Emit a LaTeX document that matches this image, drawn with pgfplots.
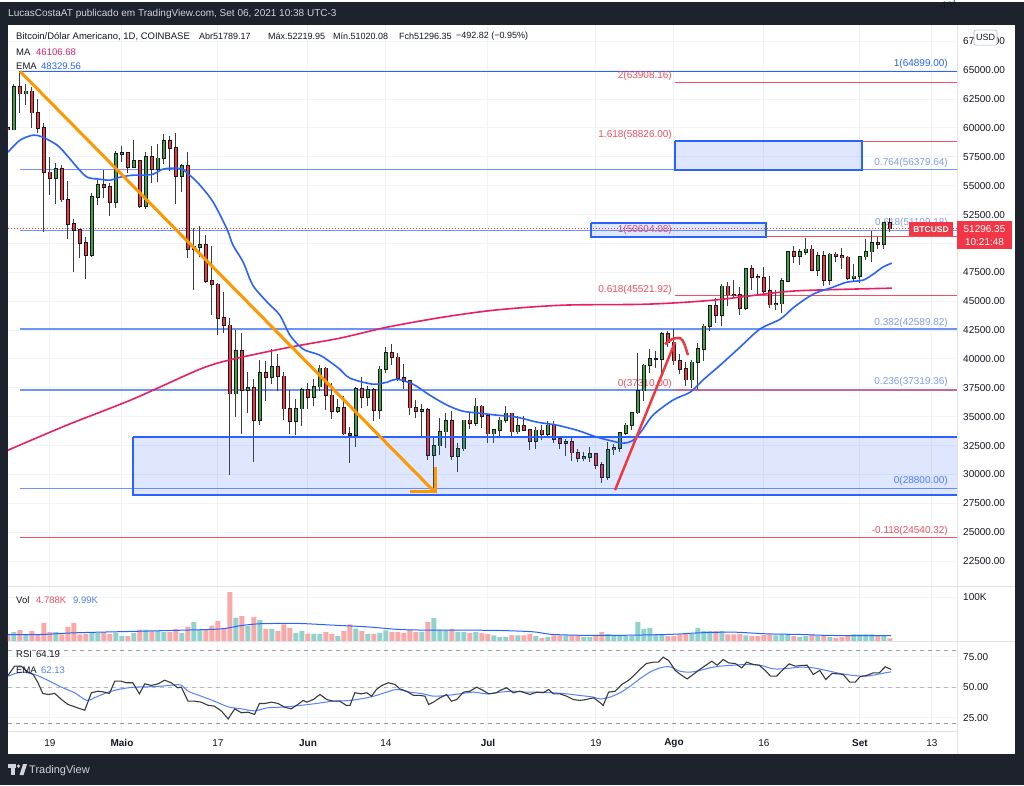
\documentclass[border=0pt]{standalone}
\usepackage{fontspec}
\setmainfont{Liberation Sans}
\usepackage{pgfplots}
\pgfplotsset{compat=1.18}
\usepackage{pgfplotstable}

\definecolor{bgdark}{HTML}{1E222D}
\definecolor{txt}{HTML}{131722}
\definecolor{hdr}{HTML}{D1D4DC}
\definecolor{gridc}{HTML}{F0F3FA}
\definecolor{sep}{HTML}{E0E3EB}
\definecolor{cgreen}{HTML}{43A047}
\definecolor{cred}{HTML}{F0393E}
\definecolor{wick}{HTML}{3C3C3C}
\definecolor{border}{HTML}{1A1A1A}
\definecolor{mapink}{HTML}{E91E63}
\definecolor{emablue}{HTML}{2962FF}
\definecolor{fibblue}{HTML}{6F94F5}
\definecolor{fiblab}{HTML}{7F9CF0}
\definecolor{fibred}{HTML}{F44E5B}
\definecolor{orangec}{HTML}{FF9800}
\definecolor{volg}{HTML}{92D2CC}
\definecolor{volr}{HTML}{F8A9A8}
\definecolor{rsiline}{HTML}{3A3A3A}
\definecolor{dashc}{HTML}{9598A1}
\definecolor{labred}{HTML}{F23645}

\pgfplotstableread{
d O H L C V
-7 59990 61200 59380 59840 15
-6 59840 63774 59800 63577 20.5
-5 63577 64899 61301 62959 25
-4 62959 63800 62020 63160 15.2
-3 63160 63520 60000 61334 22.7
-2 61334 62500 59580 60006 13.6
-1 60006 60400 51000 56150 41.7
0 56150 57500 54200 55640 20.5
1 55640 57000 53400 56440 20.5
2 56440 56780 53600 53780 15.2
3 53780 55450 50400 51690 32.6
4 51690 52100 47500 51150 41.7
5 51150 51200 48750 50050 15.2
6 50050 50550 46930 49000 16.7
7 49000 54350 48800 54030 20.5
8 54030 55450 53300 55050 19
9 55050 56400 53900 54880 20.5
10 54880 55200 52400 53580 16.7
11 53580 58000 53100 57750 19
12 57750 58450 57050 57830 11.4
13 57830 57950 56100 56580 11.4
14 56580 58950 56500 57170 19
15 57170 57200 53050 53240 26.5
16 53240 57900 52950 57500 26.5
17 57500 58400 55250 56420 22.7
18 56420 58650 55300 57380 22.7
19 57380 59500 56900 58900 20.5
20 58900 59300 56300 58250 20.5
21 58250 59550 53400 55840 28
22 55840 56900 54450 56740 19
23 56740 57950 48700 49500 32.6
24 49500 51350 46000 49700 43.2
25 49700 51500 48850 49900 25
26 49900 50700 46600 46750 25
27 46750 49800 43800 46450 35.6
28 46450 46600 42100 43550 45.5
29 43550 45800 42250 42900 30.3
30 42900 43550 30000 37000 111.4
31 37000 42550 35000 40700 53
32 40700 42250 33500 37300 56.9
33 37300 38850 35300 37500 34.1
34 37500 38300 31100 34700 54.6
35 34700 39900 34300 38800 47.8
36 38800 39800 36400 38400 28
37 38400 40850 37800 39300 28
38 39300 40400 37200 38500 22.7
39 38500 38900 34700 35700 37.9
40 35700 37300 33500 34600 30.3
41 34600 36500 33400 35700 19
42 35700 37500 34200 37300 22.7
43 37300 37900 35700 36700 17.4
44 36700 38250 35900 37600 16.7
45 37600 39500 37200 39200 16.7
46 39200 39300 35600 36850 20.5
47 36850 37900 34800 35500 16.7
48 35500 36500 35300 35800 11.4
49 35800 36800 33400 33550 22.7
50 33550 34100 31000 33400 37.9
51 33400 37550 32400 37400 28.8
52 37400 38400 35800 36700 22.7
53 36700 37700 35900 37340 16.7
54 37340 37450 34600 35550 16.7
55 35550 39400 34800 39100 19
56 39100 41000 38800 40530 24.3
57 40530 41300 39500 40150 21.2
58 40150 40500 38100 38350 21.2
59 38350 39550 37400 38090 19
60 38090 38200 35150 35800 26.5
61 35800 36450 34850 35500 20.5
62 35500 36100 33350 35600 21.2
63 35600 35750 31300 31650 44
64 31650 33300 28800 32500 52.3
65 32500 34850 31700 33700 25
66 33700 35300 32300 34650 24.3
67 34650 35500 31300 31600 28
68 31600 32700 30200 32250 21.2
69 32250 34700 32050 34700 20.5
70 34700 35300 33900 34450 19
71 34450 36600 34200 35900 20.5
72 35900 36000 34000 35050 19
73 35050 35050 32700 33550 16.7
74 33550 33950 32700 33850 12.9
75 33850 34950 33350 34700 9.1
76 34700 35950 34450 35300 9.9
77 35300 35300 33150 33700 12.9
78 33700 35050 33550 34220 12.9
79 34220 35050 33800 33860 12.9
80 33860 33900 32100 32880 16.7
81 32880 34100 32250 33820 11.4
82 33820 34250 33000 33520 6.8
83 33520 34600 33300 34260 9.9
84 34260 34650 32700 33090 12.9
85 33090 33350 32250 32730 12.9
86 32730 33100 31600 32820 12.9
87 32820 33200 31150 31880 12.9
88 31880 32250 31050 31390 12.9
89 31390 31950 31200 31530 9.1
90 31530 32400 31100 31800 9.1
91 31800 31900 30450 30840 12.9
92 30840 31050 29300 29800 20.5
93 29800 32850 29500 32150 16.7
94 32150 32600 31700 32300 11.4
95 32300 33650 31950 33600 11.4
96 33600 34500 33400 34250 11.4
97 34250 35400 33850 35350 11.4
98 35350 40550 35250 37250 44
99 37250 39550 36400 39450 28
100 39450 40900 38800 40000 30.3
101 40000 40650 39250 40000 15.2
102 40000 42300 38350 42200 16.7
103 42200 42400 41050 41450 11.4
104 41450 42600 39450 39850 11.4
105 39850 40450 38700 39150 15.2
106 39150 39750 37650 38200 16.7
107 38200 39950 37500 39700 16.7
108 39700 41400 37350 40850 30.3
109 40850 43000 39850 42830 22.7
110 42830 44700 42450 44600 22.7
111 44600 45300 43100 43800 22.7
112 43800 46450 42850 46300 22.7
113 46300 46700 44600 45580 15.2
114 45580 46800 45400 45550 15.2
115 45550 46200 43800 44400 16.7
116 44400 47900 44250 47800 12.9
117 47800 48150 45950 47100 11.4
118 47100 47400 45500 47030 11.4
119 47030 48000 45500 45900 13.6
120 45900 47150 44400 44700 15.2
121 44700 46000 44200 44800 12.9
122 44800 47050 43950 46750 15.2
123 46750 49350 46650 49300 16.7
124 49300 49800 48300 48900 11.4
125 48900 49500 48100 49250 9.1
126 49250 50500 49000 49500 11.4
127 49500 49850 47600 47700 15.2
128 47700 49250 47150 48950 11.4
129 48950 49350 46300 46850 12.9
130 46850 49200 46400 49050 9.9
131 49050 49300 48400 48900 7.6
132 48900 49650 47800 48800 9.1
133 48800 48900 46850 46980 12.9
134 46980 48250 46700 47150 15.2
135 47150 48900 46600 48850 15.2
136 48850 50400 48600 49300 15.2
137 49300 51050 48400 50050 15.2
138 50050 50550 49550 49950 11.4
139 49950 51900 49500 51780 11.4
140 51789 52220 51020 51296 6.1
}\btc

\begin{document}
\begin{tikzpicture}
\fill[bgdark] (0pt,0pt) rectangle (1024pt,-783pt);
\fill[white] (8pt,-23pt) rectangle (1015pt,-752pt);
\node[anchor=west, text=hdr, font=\fontsize{10}{12}\selectfont, inner sep=0pt] at (8pt,-12pt) {LucasCostaAT publicado em TradingView.com, Set 06, 2021 10:38 UTC-3};

% ---------------- main price pane
\begin{axis}[
  scale only axis, width=949pt, height=561pt, at={(8pt,-584pt)}, anchor=south west,
  xmin=-7, xmax=151.17, ymin=20336, ymax=68895,
  axis line style={draw=none}, tick style={draw=none}, major tick length=0pt,
  xtick={0,12,28,43,56,73,91,104,119,135,147}, xticklabels={},
  ytick={22500,25000,...,67500},
  yticklabels={22500.00,25000.00,27500.00,30000.00,32500.00,35000.00,37500.00,40000.00,42500.00,45000.00,47500.00,50000.00,52500.00,55000.00,57500.00,60000.00,62500.00,65000.00,67500.00},
  yticklabel pos=right,
  yticklabel style={font=\fontsize{10}{12}\selectfont, text=txt, xshift=2.7pt},
  xmajorgrids, ymajorgrids, grid style={draw=gridc, line width=1pt},
]
% fibonacci retracement lines (blue) and -0.118 (red)
\addplot[emablue, line width=1.3pt] coordinates {(-5,64899) (152,64899)};
\addplot[fibblue, line width=1.3pt] coordinates {(-5,56379.64) (152,56379.64)};
\addplot[fibblue, line width=1.3pt] coordinates {(-5,51109.18) (152,51109.18)};
\addplot[fibblue, line width=1.3pt] coordinates {(-5,42589.82) (152,42589.82)};
\addplot[fibblue, line width=1.3pt] coordinates {(-5,37319.36) (152,37319.36)};
\addplot[fibblue, line width=1.3pt] coordinates {(-5,28800) (152,28800)};
\addplot[fibred, line width=1.3pt] coordinates {(-5,24540.32) (152,24540.32)};
% fibonacci extension (red)
\addplot[fibred, line width=1.3pt] coordinates {(104.17,63908.16) (152,63908.16)};
\addplot[fibred, line width=1.3pt] coordinates {(104.17,58826) (152,58826)};
\addplot[fibred, line width=1.3pt] coordinates {(104.17,50604.08) (152,50604.08)};
\addplot[fibred, line width=1.3pt] coordinates {(104.17,45521.92) (152,45521.92)};
\addplot[fibred!60!fibblue, line width=1.3pt] coordinates {(104.17,37310) (152,37310)};
% labels
\begin{scope}[every node/.style={font=\fontsize{10}{12}\selectfont, inner sep=0pt}]
\node[anchor=east, text=emablue] at (axis cs:149.67,65519) {1(64899.00)};
\node[anchor=east, text=fiblab] at (axis cs:149.67,56950) {0.764(56379.64)};
\node[anchor=east, text=fiblab] at (axis cs:149.67,51756) {0.618(51109.18)};
\node[anchor=east, text=fiblab] at (axis cs:149.67,43100) {0.382(42589.82)};
\node[anchor=east, text=fiblab] at (axis cs:149.67,37993) {0.236(37319.36)};
\node[anchor=east, text=emablue!80] at (axis cs:149.67,29424) {0(28800.00)};
\node[anchor=east, text=fibred] at (axis cs:149.67,25096) {-0.118(24540.32)};
\node[anchor=east, text=fibred] at (axis cs:103.67,64481) {2(63908.16)};
\node[anchor=east, text=fibred] at (axis cs:103.67,59374) {1.618(58826.00)};
\node[anchor=east, text=fibred] at (axis cs:103.67,51150) {1(50604.08)};
\node[anchor=east, text=fibred] at (axis cs:103.67,45957) {0.618(45521.92)};
\node[anchor=east, text=fibred] at (axis cs:103.67,37820) {0(37310.00)};
\end{scope}
% current price dotted line
\addplot[labred, line width=0.8pt, dash pattern=on 1pt off 2pt] coordinates {(-7,51296.35) (152,51296.35)};
% wicks
\addplot[draw=none, mark=none, error bars/.cd, y dir=both, y explicit, error mark=none,
  error bar style={draw=wick, line width=1pt, solid}]
  table[x=d, y expr={(\thisrow{H}+\thisrow{L})/2}, y error expr={(\thisrow{H}-\thisrow{L})/2}] {\btc};
% body borders
\addplot[draw=none, mark=none, error bars/.cd, y dir=both, y explicit, error mark=none,
  error bar style={draw=border, line width=4pt, solid}]
  table[x=d, y expr={(\thisrow{O}+\thisrow{C})/2}, y error expr={abs(\thisrow{C}-\thisrow{O})/2+60}] {\btc};
% green bodies
\addplot[draw=none, mark=none, error bars/.cd, y dir=both, y explicit, error mark=none,
  error bar style={draw=cgreen, line width=2.4pt, solid}]
  table[x=d, y expr={\thisrow{C}>=\thisrow{O} ? (\thisrow{O}+\thisrow{C})/2 : nan}, y error expr={abs(\thisrow{C}-\thisrow{O})/2}] {\btc};
% red bodies
\addplot[draw=none, mark=none, error bars/.cd, y dir=both, y explicit, error mark=none,
  error bar style={draw=cred, line width=2.4pt, solid}]
  table[x=d, y expr={\thisrow{C}<\thisrow{O} ? (\thisrow{O}+\thisrow{C})/2 : nan}, y error expr={abs(\thisrow{C}-\thisrow{O})/2}] {\btc};
% MA 200
\addplot[mapink, line width=1.6pt, smooth, tension=0.5] coordinates {
(-7,32107) (2.8,34271) (13.8,36522) (25,39119) (30.5,39984) (40,41023) (48.3,41802) (56.2,42754) (65.5,43620) (74.5,44250) (85.5,44658) (99.5,44745) (110.5,45091) (121.7,45784) (127.2,45957) (140.3,46130)};
% EMA 20
\addplot[emablue, line width=1.6pt, smooth, tension=0.5] coordinates {
(-7,57902) (-5,58941) (-2.8,59374) (-1.2,59200) (1.2,58508) (2.8,57642) (4.5,56604) (6.2,55738) (8.3,55565) (10,55478) (11.7,55738) (13.8,55911) (15.5,55911) (17.2,55998) (18.8,56431) (20.5,56517) (22,56431) (23.3,55911) (25,55046) (27.2,53574) (29.5,51237) (30.5,49852) (32.2,48380) (33.8,46390) (36.2,44918) (38.3,43793) (40,42062) (42.2,40850) (45,40330) (47.2,39551) (48.3,39119) (50,38340) (53.8,37820) (56.2,37993) (57.8,38253) (60.5,37820) (63.3,36868) (66.2,36002) (68.8,35483) (71.7,35310) (74.5,35137) (77.8,34963) (81.2,34531) (84.5,34271) (87.8,33838) (91.2,33232) (93.8,32886) (95.5,32713) (97,32900) (98.5,33700) (100.5,35137) (103.8,36435) (106.7,37128) (108.8,38167) (111.7,39465) (115,41023) (118.3,42581) (121.7,43447) (124,44485) (127.2,45611) (130.5,46216) (132.8,46649) (135.5,46822) (137.2,47342) (138.8,47948) (140.3,48294)};
% boxes
\addplot[draw=emablue, line width=2pt, fill=emablue, fill opacity=0.15] coordinates {(13.83,33232) (152,33232) (152,28212) (13.83,28212) (13.83,33232)};
\addplot[draw=emablue, line width=2pt, fill=emablue, fill opacity=0.15] coordinates {(104.17,58826) (135.33,58826) (135.33,56379.64) (104.17,56379.64) (104.17,58826)};
\addplot[draw=emablue, line width=2pt, fill=emablue, fill opacity=0.15] coordinates {(90.17,51756) (119.33,51756) (119.33,50545) (90.17,50545) (90.17,51756)};
% orange trend line
\addplot[orangec, line width=3pt] coordinates {(-5,64899) (63.9,28600)};
\addplot[orangec, line width=3pt] coordinates {(60,28560) (64.17,28560) (64.17,30636)};
% red arrow
\addplot[cred, line width=2.5pt] coordinates {(94.17,28645) (104.17,41456)};
\addplot[cred, line width=2.5pt, smooth] coordinates {(102.5,41283) (103.67,41717) (105,41802) (105.67,41370) (106.33,40330)};
\end{axis}

% ---------------- volume pane
\begin{axis}[
  scale only axis, width=949pt, height=55pt, at={(8pt,-639pt)}, anchor=south west,
  xmin=-7, xmax=151.17, ymin=0, ymax=125,
  axis line style={draw=none}, tick style={draw=none}, major tick length=0pt,
  xtick={0,12,28,43,56,73,91,104,119,135,147}, xticklabels={},
  ytick={100}, yticklabels={100K},
  yticklabel pos=right,
  yticklabel style={font=\fontsize{10}{12}\selectfont, text=txt, xshift=2.7pt},
  xmajorgrids, ymajorgrids, grid style={draw=gridc, line width=1pt},
]
\addplot[ybar, bar width=5pt, bar shift=0pt, fill=volg, draw=none]
  table[x=d, y expr={\thisrow{C}>=\thisrow{O} ? \thisrow{V} : nan}] {\btc};
\addplot[ybar, bar width=5pt, bar shift=0pt, fill=volr, draw=none]
  table[x=d, y expr={\thisrow{C}<\thisrow{O} ? \thisrow{V} : nan}] {\btc};
\addplot[emablue, line width=1pt, smooth] coordinates {
(-7,15.2) (-1.4,15.2) (4.1,19) (15.2,22.7) (26.3,26.5) (29.1,28.8) (31.9,35.6) (34.7,39.4) (37.4,40.2) (41.7,40.2) (47.2,36.4) (52.8,32.6) (58.3,26.5) (63.9,25) (69.4,25) (75,24.3) (80.6,21.2) (83.9,15.2) (91.7,12.9) (102.8,15.2) (108.3,19) (113.9,20.5) (119.4,16.7) (125,15.2) (130.6,12.9) (140.2,12.9)};
\end{axis}

% ---------------- RSI pane
\begin{axis}[
  scale only axis, width=949pt, height=90pt, at={(8pt,-729pt)}, anchor=south west,
  xmin=-7, xmax=151.17, ymin=13.9, ymax=87.7,
  axis line style={draw=none}, tick style={draw=none}, major tick length=0pt,
  xtick={0,12,28,43,56,73,91,104,119,135,147},
  xticklabels={19,\textbf{Maio},17,\textbf{Jun},14,\textbf{Jul},19,\textbf{Ago},16,\textbf{Set},13},
  xticklabel style={font=\fontsize{10}{12}\selectfont, text=txt, anchor=center, yshift=-12pt},
  ytick={25,50,75}, yticklabels={25.00,50.00,75.00},
  yticklabel pos=right,
  yticklabel style={font=\fontsize{10}{12}\selectfont, text=txt, xshift=2.7pt},
  xmajorgrids, ymajorgrids, grid style={draw=gridc, line width=1pt},
]
\addplot[dashc, line width=0.9pt, dash pattern=on 4pt off 4pt] coordinates {(-7,80) (152,80)};
\addplot[dashc!70, line width=0.9pt, dash pattern=on 4pt off 4pt] coordinates {(-7,50) (152,50)};
\addplot[dashc, line width=0.9pt, dash pattern=on 4pt off 4pt] coordinates {(-7,20) (152,20)};
\addplot[emablue!80, line width=1pt, smooth] coordinates {
(-7,59.0) (-4.8,62.3) (-2.6,60.4) (-0.3,55.5) (1.9,50) (4.1,45.4) (6.1,39.1) (7.4,41.3) (9.7,45.9) (11.9,48.6) (14.1,50) (16.3,50.3) (18.6,50.8) (20.8,51.9) (21.9,51.6) (23,46.7) (25.2,42.6) (27.4,38.5) (29.7,33.9) (31.9,32.2) (34.1,30.6) (36.3,33.1) (38.6,33.6) (41.7,35) (44.4,36.6) (47.2,38.5) (50,39.1) (52.8,41.3) (54.4,43.2) (56.1,45.9) (57.8,48.1) (60,45.9) (62.2,44.5) (63.9,42.6) (66.1,43.2) (68.3,44.5) (70.6,45.9) (72.8,44.5) (75,45.9) (77.2,46.7) (79.4,45.9) (81.7,45.9) (83.9,45.4) (86.1,44.5) (88.3,43.2) (90.6,41.8) (91.7,40.3) (93.3,41.8) (95,45.4) (96.7,50.8) (98.3,56.8) (100,62.3) (101.7,65.8) (103.3,66.7) (105,63.1) (106.7,62.3) (108.3,63.7) (110,65.8) (111.7,67.2) (113.9,68.0) (116.1,68.6) (118.3,68.0) (120.6,65.0) (122.8,65.3) (125,66.4) (127.2,65.8) (129.4,63.7) (131.7,61.2) (133.9,59.6) (136.1,59.0) (138.3,60.9) (140.2,62.6)};
\addplot[rsiline, line width=1.1pt] coordinates {
(-7,59.6) (-5.9,67.2) (-4.8,67.2) (-3.7,62.3) (-2.8,60.4) (-2,53.6) (-1.2,44.8) (-0.3,44.0) (0.8,44.8) (1.9,39.9) (3,35.8) (4.1,33.9) (4.9,32.5) (5.8,31.1) (6.9,45.4) (8,46.7) (9.1,45.9) (9.9,44.8) (10.8,54.9) (11.9,54.9) (12.7,53.6) (13.8,53.6) (14.9,44.5) (15.8,52.7) (16.9,51.4) (18,52.7) (19.1,55.7) (20.2,53.6) (21.3,49.5) (21.9,50) (23,38.5) (24.1,38.5) (25.2,37.7) (26.3,35.2) (27.4,34.4) (28.6,30.3) (29.7,24.0) (30.8,32.2) (31.9,29.0) (33,29.5) (34.1,27.6) (34.9,36.6) (35.8,36.6) (36.9,37.7) (38,36.6) (39.1,33.6) (40.2,32.2) (41.3,35.8) (42.2,39.1) (42.8,37.7) (43.9,39.9) (45,44.0) (46.1,39.9) (47.2,38.5) (48.3,38.5) (49.4,35.0) (50,35.0) (50.8,45.4) (51.9,44.5) (52.8,45.4) (53.6,42.6) (54.4,48.1) (55.3,51.4) (56.4,53.6) (57.5,52.2) (58.3,48.6) (59.4,46.7) (60.6,43.2) (61.7,43.2) (62.5,42.6) (63.1,35.8) (63.9,37.7) (65,41.3) (66.1,44.0) (66.9,38.5) (67.8,39.9) (68.9,45.9) (70,46.7) (71.1,50) (72.2,47.3) (73.1,44.5) (74.4,45.4) (75,47.3) (76.1,49.5) (77.2,45.4) (78.3,46.7) (80,44.0) (81.1,45.9) (82.2,45.4) (83.1,48.1) (83.9,44.5) (85,44.5) (86.1,42.6) (87.2,39.9) (88.3,39.1) (89.4,39.9) (90.6,41.3) (91.7,37.2) (92.2,35.0) (93.1,45.9) (94.2,46.7) (95.3,52.2) (96.4,55.5) (97.2,59.0) (98.3,64.5) (99.4,69.4) (100.6,70.5) (101.4,70.5) (102.2,74.6) (103.1,71.9) (104.2,63.7) (105.3,59.6) (106.2,56.8) (107.2,60.4) (108.3,64.5) (109.4,68.3) (110.3,71.3) (111.2,68.0) (112.2,72.7) (113.1,69.9) (114.2,69.4) (115.3,65.8) (116.1,70.5) (117.2,68.6) (118.2,68.0) (119.2,63.7) (120.1,59.0) (121.1,59.0) (122.2,64.5) (123.2,69.1) (124.2,67.2) (125.3,67.8) (126.2,68.0) (127.2,60.4) (128.3,63.7) (129.3,56.3) (130.3,61.2) (131.4,60.9) (132.2,60.4) (133.3,54.1) (134.2,54.1) (135,58.5) (136.1,59.6) (137.2,61.7) (138.2,61.7) (139.2,66.7) (140.2,64.5)};
\end{axis}

% ---------------- separators
\draw[sep, line width=1pt] (957pt,-23pt) -- (957pt,-752pt);
\draw[sep, line width=1pt] (8pt,-584pt) -- (1015pt,-584pt);
\draw[sep, line width=1pt] (8pt,-639pt) -- (1015pt,-639pt);
\draw[sep, line width=1pt] (8pt,-729pt) -- (957pt,-729pt);

% ---------------- legends
\begin{scope}[every node/.style={inner sep=0pt, anchor=west, font=\fontsize{9.5}{11}\selectfont, text=txt}]
\node at (16pt,-34pt) {Bitcoin/Dólar Americano, 1D, COINBASE};
\node[font=\fontsize{9}{11}\selectfont] at (199pt,-34pt) {Abr51789.17};
\node[font=\fontsize{9}{11}\selectfont] at (268pt,-34pt) {Máx.52219.95};
\node[font=\fontsize{9}{11}\selectfont] at (333pt,-34pt) {Mín.51020.08};
\node[font=\fontsize{9}{11}\selectfont] at (399pt,-34pt) {Fch51296.35};
\node[font=\fontsize{9}{11}\selectfont] at (456pt,-34pt) {−492.82 (−0.95\%)};
\node at (16pt,-50pt) {MA};
\node[text=mapink] at (36pt,-50pt) {46106.68};
\node at (16pt,-64pt) {EMA};
\node[text=emablue] at (41pt,-64pt) {48329.56};
\node at (16pt,-598pt) {Vol};
\node[text=fibred] at (36pt,-598pt) {4.788K};
\node[text=emablue!80] at (73pt,-598pt) {9.99K};
\node at (16pt,-652pt) {RSI};
\node at (36pt,-652pt) {64.19};
\node at (16pt,-668pt) {EMA};
\node[text=emablue!80] at (41pt,-668pt) {62.13};
\end{scope}

% USD box
\draw[sep!80!black, fill=white, rounded corners=2pt, line width=0.6pt] (974pt,-28pt) rectangle (997pt,-43pt);
\node[font=\fontsize{9}{10}\selectfont, text=txt, inner sep=0pt] at (985.5pt,-35.5pt) {USD};

% price labels
\fill[labred] (957pt,-219pt) rectangle (1012pt,-247pt);
\node[font=\fontsize{10}{12}\selectfont, text=white, inner sep=0pt] at (984.5pt,-227pt) {51296.35};
\node[font=\fontsize{10}{12}\selectfont, text=white, inner sep=0pt] at (984.5pt,-240pt) {10:21:48};
\fill[labred] (909pt,-220pt) rectangle (953pt,-234pt);
\node[font=\bfseries\fontsize{8.5}{10}\selectfont, text=white, inner sep=0pt] at (931pt,-227pt) {BTCUSD};

% TradingView logo
\fill[hdr] (8pt,-762pt) rectangle (16pt,-765.5pt);
\fill[hdr] (11pt,-765.5pt) rectangle (14.5pt,-773pt);
\fill[hdr] (18.5pt,-764pt) circle (1.7pt);
\fill[hdr] (19.5pt,-773pt) -- (23pt,-762pt) -- (27pt,-762pt) -- (23.5pt,-773pt) -- cycle;
\node[anchor=west, inner sep=0pt, font=\fontsize{11}{13}\selectfont, text=hdr] at (29pt,-768pt) {TradingView};
\end{tikzpicture}
\end{document}
